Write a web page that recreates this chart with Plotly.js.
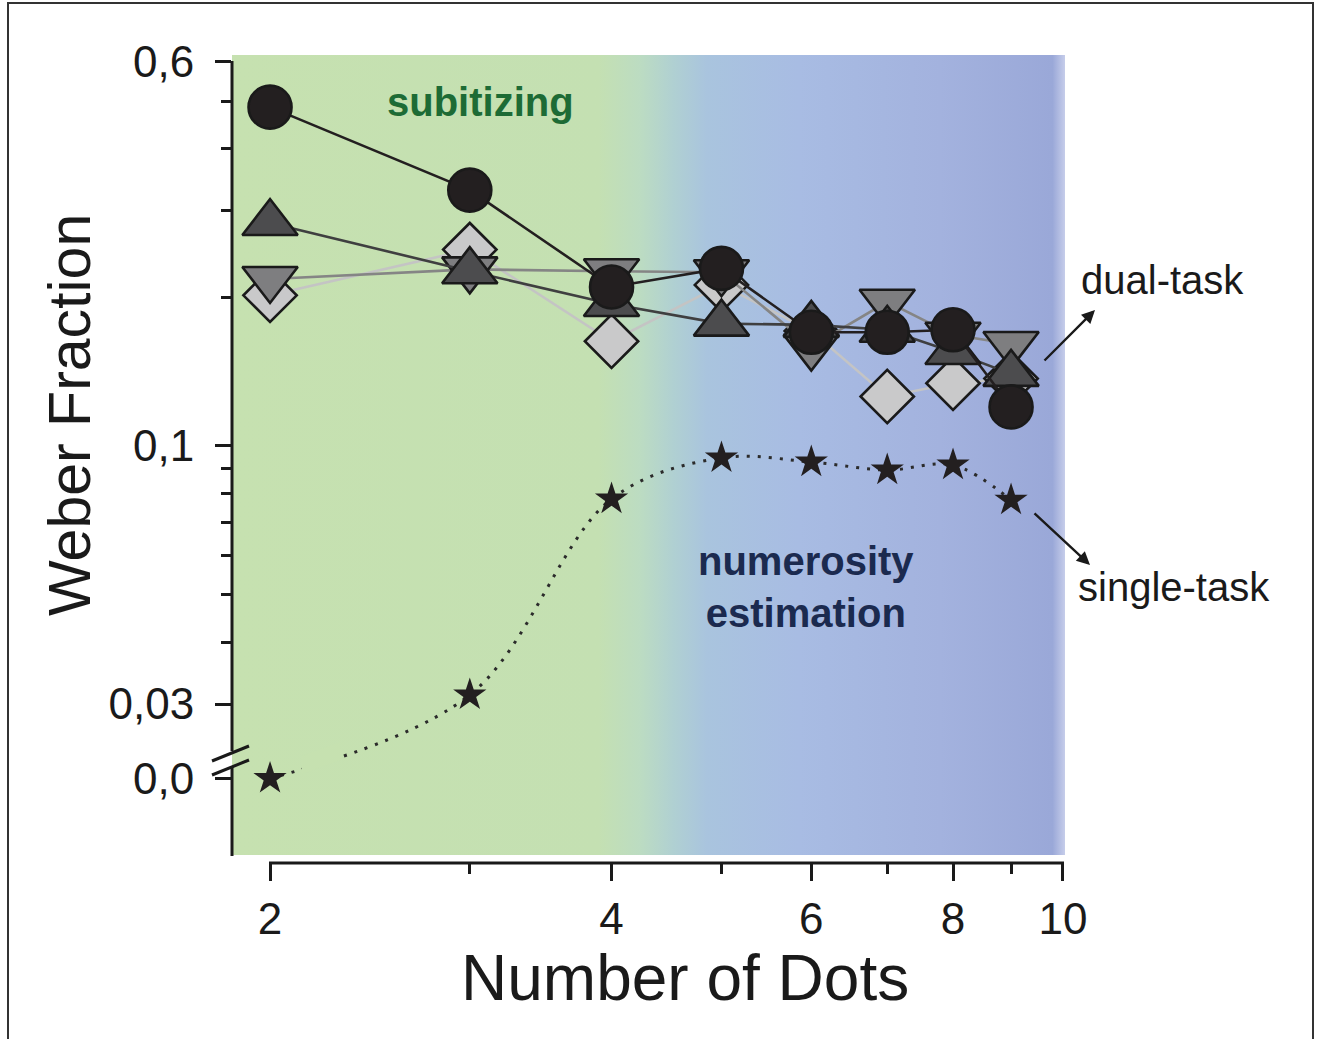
<!DOCTYPE html>
<html>
<head>
<meta charset="utf-8">
<script src="https://cdn.plot.ly/plotly-3.0.1.min.js"></script>
<style>
html,body{margin:0;padding:0;background:#ffffff;}
#chart{width:1319px;height:1039px;}
</style>
</head>
<body>
<div id="chart"></div>
<script>
// ---------------- data ----------------
const numberOfDots = [2, 3, 4, 5, 6, 7, 8, 9];
// dual-task Weber fractions (four observers)
const dualCircle       = [0.486, 0.330, 0.210, 0.229, 0.170, 0.170, 0.172, 0.120];
const dualTriangleUp   = [0.283, 0.226, 0.194, 0.177, 0.176, 0.172, 0.155, 0.140];
const dualTriangleDown = [0.218, 0.228, 0.226, 0.225, 0.159, 0.196, 0.168, 0.161];
const dualDiamond      = [0.202, 0.250, 0.163, 0.212, 0.171, 0.126, 0.134, 0.137];
// position used for "0,0" on the broken log axis
const ZERO_POS = 0.0212;
// single-task Weber fractions (mean)
const singleTask       = [ZERO_POS, 0.0313, 0.0781, 0.0946, 0.0928, 0.0894, 0.0915, 0.0777];

const xTickVals  = [2, 4, 6, 8, 10];
const xTickText  = ['2', '4', '6', '8', '10'];
const xMinorVals = [3, 5, 7, 9];
const yTickVals  = [ZERO_POS, 0.03, 0.1, 0.6];
const yTickText  = ['0,0', '0,03', '0,1', '0,6'];
const yMinorVals = [0.04, 0.05, 0.06, 0.07, 0.08, 0.09, 0.2, 0.3, 0.4, 0.5];

const xTitle = 'Number of Dots';
const yTitle = 'Weber Fraction';
const labelSubitizing = 'subitizing';
const labelNumerosity = 'numerosity<br>estimation';
const labelDual = 'dual-task';
const labelSingle = 'single-task';

// ---------------- styling ----------------
const FONT = 'Liberation Sans, Arial, Helvetica, sans-serif';
const INK = '#1a1a1a';
const GREEN_BG = '#c6e1b0';
const X_RANGE_LOG = [0.2675, 1.0018];
const Y_RANGE_LOG = [-1.8288, -0.2077];

// background gradient panel (spans the whole plotting area)
const bgX = [Math.pow(10, X_RANGE_LOG[0]), Math.pow(10, X_RANGE_LOG[1]), Math.pow(10, X_RANGE_LOG[1]), Math.pow(10, X_RANGE_LOG[0]), Math.pow(10, X_RANGE_LOG[0])];
const bgY = [Math.pow(10, Y_RANGE_LOG[0]), Math.pow(10, Y_RANGE_LOG[0]), Math.pow(10, Y_RANGE_LOG[1]), Math.pow(10, Y_RANGE_LOG[1]), Math.pow(10, Y_RANGE_LOG[0])];

const background = {
  x: bgX, y: bgY, type: 'scatter', mode: 'lines', fill: 'toself',
  line: {width: 0, color: 'rgba(0,0,0,0)'},
  fillcolor: '#b8cfd8',
  fillgradient: {
    type: 'horizontal',
    colorscale: [
      [0.0,   GREEN_BG],
      [0.44,  '#c4e0b2'],
      [0.49,  '#bcdcc2'],
      [0.53,  '#b0d0d2'],
      [0.57,  '#a9c4de'],
      [0.68,  '#a8bce3'],
      [0.85,  '#a3b2de'],
      [0.985, '#9aa8d8'],
      [1.0,   '#c6cdea']
    ]
  },
  hoverinfo: 'skip', showlegend: false
};

function dualTrace(yvals, symbol, size, fill, lineColor) {
  return {
    x: numberOfDots, y: yvals, type: 'scatter', mode: 'lines+markers',
    line: {color: lineColor, width: 2.6},
    marker: {symbol: symbol, size: size, color: fill, line: {color: INK, width: 2.6}},
    cliponaxis: false, showlegend: false
  };
}

const traces = [
  background,
  dualTrace(dualDiamond, 'diamond', 41, '#c9c9ca', '#c4c4c4'),
  dualTrace(dualTriangleDown, 'triangle-down', 48, '#7e7e80', '#858585'),
  dualTrace(dualTriangleUp, 'triangle-up', 48, '#4c4c4e', '#3f3f40'),
  dualTrace(dualCircle, 'circle', 43, '#231f20', '#231f20'),
  {
    x: numberOfDots, y: singleTask, type: 'scatter', mode: 'lines+markers',
    line: {color: '#2b2b2b', width: 3, dash: '3px,8px', shape: 'spline', smoothing: 1},
    marker: {symbol: 'star', size: 25, color: '#231f20', line: {width: 0}},
    cliponaxis: false, showlegend: false
  }
];

// paper coordinate helpers (plot area: x 232..1065 px, paper y 863..55 px)
const px = v => (v - 232) / 833;
const py = v => (863 - v) / 808;

const shapes = [
  // gap in the single-task line at the axis break
  {type: 'path', xref: 'paper', yref: 'paper',
   path: 'M ' + px(302) + ' ' + py(774) + ' L ' + px(340) + ' ' + py(760) + ' L ' + px(340) + ' ' + py(742) + ' L ' + px(302) + ' ' + py(756) + ' Z',
   line: {width: 0}, fillcolor: GREEN_BG, layer: 'above'},
  // outer frame
  {type: 'rect', xref: 'paper', yref: 'paper', x0: px(8), x1: px(1313), y0: py(1060), y1: py(3),
   line: {color: '#333333', width: 2}, fillcolor: 'rgba(0,0,0,0)', layer: 'above'},
  // y axis line with a break
  {type: 'line', xref: 'paper', yref: 'paper', x0: 0, x1: 0, y0: py(61), y1: py(751), line: {color: INK, width: 3}, layer: 'above'},
  {type: 'line', xref: 'paper', yref: 'paper', x0: 0, x1: 0, y0: py(767), y1: py(856), line: {color: INK, width: 3}, layer: 'above'},
  {type: 'line', xref: 'paper', yref: 'paper', x0: px(212), x1: px(249), y0: py(761), y1: py(746), line: {color: INK, width: 3}, layer: 'above'},
  {type: 'line', xref: 'paper', yref: 'paper', x0: px(212), x1: px(249), y0: py(775), y1: py(760), line: {color: INK, width: 3}, layer: 'above'},
  // x axis line (from 2 to 10)
  {type: 'line', xref: 'paper', yref: 'paper', x0: px(269), x1: px(1064), y0: 0, y1: 0, line: {color: INK, width: 3}, layer: 'above'}
];

const annotations = [
  {xref: 'paper', yref: 'paper', x: px(685), y: py(978), text: xTitle, showarrow: false,
   xanchor: 'center', yanchor: 'middle', font: {family: FONT, size: 64, color: INK}},
  {xref: 'paper', yref: 'paper', x: px(70), y: py(415), text: yTitle, showarrow: false, textangle: -90,
   xanchor: 'center', yanchor: 'middle', font: {family: FONT, size: 59, color: INK}},
  {xref: 'paper', yref: 'paper', x: px(480), y: py(102), text: '<b>' + labelSubitizing + '</b>', showarrow: false,
   xanchor: 'center', yanchor: 'middle', font: {family: FONT, size: 40, color: '#1d6b35'}},
  {xref: 'paper', yref: 'paper', x: px(806), y: py(587), text: '<b>' + labelNumerosity + '</b>', showarrow: false,
   xanchor: 'center', yanchor: 'middle', font: {family: FONT, size: 40, color: '#1b2a4f'}},
  {xref: 'paper', yref: 'paper', x: px(1162), y: py(280), text: labelDual, showarrow: false,
   xanchor: 'center', yanchor: 'middle', font: {family: FONT, size: 40, color: INK}},
  {xref: 'paper', yref: 'paper', x: px(1174), y: py(587), text: labelSingle, showarrow: false,
   xanchor: 'center', yanchor: 'middle', font: {family: FONT, size: 40, color: INK}},
  // arrows
  {xref: 'paper', yref: 'paper', x: px(1095), y: py(310), ax: -52, ay: 52, text: '', showarrow: true,
   arrowhead: 2, arrowsize: 1.1, arrowwidth: 2.4, arrowcolor: INK},
  {xref: 'paper', yref: 'paper', x: px(1090), y: py(565), ax: -57, ay: -53, text: '', showarrow: true,
   arrowhead: 2, arrowsize: 1.1, arrowwidth: 2.4, arrowcolor: INK}
];

const layout = {
  width: 1319, height: 1039,
  margin: {l: 232, r: 254, t: 55, b: 176, pad: 0},
  paper_bgcolor: '#ffffff', plot_bgcolor: 'rgba(0,0,0,0)',
  showlegend: false, hovermode: false,
  font: {family: FONT, color: INK},
  xaxis: {
    type: 'log', range: X_RANGE_LOG, anchor: 'free', position: 0,
    showline: false, showgrid: false, zeroline: false,
    tickmode: 'array', tickvals: xTickVals, ticktext: xTickText,
    ticks: 'outside', ticklen: 17, tickwidth: 3, tickcolor: INK,
    tickfont: {family: FONT, size: 44, color: INK}, ticklabelstandoff: 0,
    minor: {tickmode: 'array', tickvals: xMinorVals, ticks: 'outside', ticklen: 10, tickwidth: 3, tickcolor: INK, showgrid: false},
    automargin: false
  },
  yaxis: {
    type: 'log', range: Y_RANGE_LOG, domain: [8 / 808, 1],
    showline: false, showgrid: false, zeroline: false,
    tickmode: 'array', tickvals: yTickVals, ticktext: yTickText,
    ticks: 'outside', ticklen: 16, tickwidth: 3, tickcolor: INK,
    tickfont: {family: FONT, size: 44, color: INK}, ticklabelstandoff: 12,
    minor: {tickmode: 'array', tickvals: yMinorVals, ticks: 'outside', ticklen: 10, tickwidth: 3, tickcolor: INK, showgrid: false},
    automargin: false
  },
  shapes: shapes,
  annotations: annotations
};

Plotly.newPlot('chart', traces, layout, {staticPlot: true, displayModeBar: false});
</script>
</body>
</html>
